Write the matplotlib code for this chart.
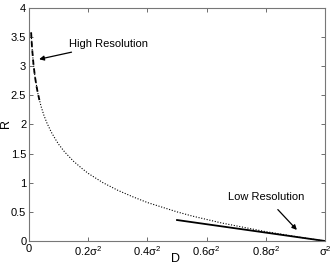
import matplotlib
matplotlib.use("Agg")
import matplotlib.pyplot as plt

plt.rcParams['font.family'] = ['Liberation Sans', 'DejaVu Sans']
plt.rcParams['mathtext.default'] = 'regular'

# R(D) curve
D_vals = [0.007, 0.01, 0.015, 0.02, 0.03, 0.04, 0.05, 0.06, 0.075, 0.09, 0.1, 0.12, 0.15,
          0.18, 0.2, 0.25, 0.3, 0.35, 0.4, 0.45, 0.5, 0.55, 0.6, 0.65, 0.7, 0.75, 0.8,
          0.85, 0.9, 0.95, 1.0]
R_vals = [3.58, 3.32, 3.03, 2.82, 2.53, 2.32, 2.16, 2.03, 1.87, 1.74, 1.66, 1.53, 1.37,
          1.24, 1.16, 1.0, 0.87, 0.76, 0.66, 0.58, 0.5, 0.43, 0.37, 0.31, 0.26, 0.21, 0.16,
          0.12, 0.076, 0.037, 0.0]
# High-resolution (dashed) segment
D_high = [0.007, 0.01, 0.015, 0.02, 0.025, 0.03, 0.035]
R_high = [3.58, 3.32, 3.03, 2.82, 2.66, 2.53, 2.42]
# Low-resolution (solid) segment
D_low = [0.5, 1.0]
R_low = [0.36, 0.0]

x_ticks = [0, 0.2, 0.4, 0.6, 0.8, 1.0]
x_labels = ['0', '0.2$\\sigma^2$', '0.4$\\sigma^2$', '0.6$\\sigma^2$', '0.8$\\sigma^2$', '$\\sigma^2$']
y_ticks = [0, 0.5, 1, 1.5, 2, 2.5, 3, 3.5, 4]
y_labels = ['0', '0.5', '1', '1.5', '2', '2.5', '3', '3.5', '4']

fig = plt.figure(figsize=(3.34, 2.66), dpi=100)
ax = fig.add_axes([0.087, 0.094, 0.886, 0.876])

ax.plot(D_vals, R_vals, color='black', linestyle=(0, (1, 1.5)), linewidth=0.8)
ax.plot(D_high, R_high, color='black', linestyle=(0, (3, 2)), linewidth=1.3)
ax.plot(D_low, R_low, color='black', linestyle='-', linewidth=1.3)

ax.set_xlim(0, 1)
ax.set_ylim(0, 4)
ax.set_xticks(x_ticks)
ax.set_xticklabels(x_labels)
ax.set_yticks(y_ticks)
ax.set_yticklabels(y_labels)
ax.tick_params(direction='in', top=True, right=True, labelsize=8, length=3,
               width=0.6, color='#555555', pad=2)
for s in ax.spines.values():
    s.set_color('#777777')
    s.set_linewidth(0.8)

fig.text(175 / 334, 1 - 259 / 266, 'D', fontsize=9, ha='center', va='center')
fig.text(6 / 334, 1 - 123 / 266, 'R', fontsize=9, ha='center', va='center', rotation=90)

ax.annotate('High Resolution', xy=(0.034, 3.12), xytext=(0.135, 3.38),
            fontsize=8, va='center', ha='left',
            arrowprops=dict(arrowstyle='-|>', color='black', lw=0.9,
                            mutation_scale=7, shrinkA=1, shrinkB=0))
ax.annotate('Low Resolution', xy=(0.905, 0.19), xytext=(0.80, 0.76),
            fontsize=8, va='center', ha='center',
            arrowprops=dict(arrowstyle='-|>', color='black', lw=0.9,
                            mutation_scale=7, shrinkA=5, shrinkB=0))

fig.savefig('out.png', dpi=100)
